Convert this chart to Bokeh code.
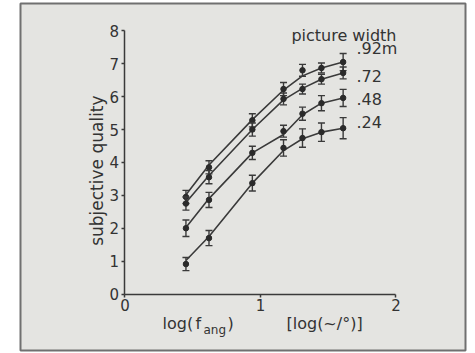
from bokeh.plotting import figure
from bokeh.models import Label, Range1d, FixedTicker, ColumnDataSource, LinearAxis
from bokeh.embed import file_html
from bokeh.resources import INLINE
import math

# ---- data ----
x_log_f = [0.45, 0.62, 0.94, 1.17, 1.31, 1.45, 1.61]

widths = [".92m", ".72", ".48", ".24"]

q_92 = [2.95, 3.85, 5.28, 6.23, 6.80, 6.87, 7.05]
q_72 = [2.75, 3.55, 5.00, 5.93, 6.23, 6.53, 6.72]
q_48 = [2.00, 2.86, 4.29, 4.95, 5.48, 5.80, 5.96]
q_24 = [0.91, 1.70, 3.37, 4.44, 4.74, 4.92, 5.04]

err_92 = [0.20, 0.20, 0.20, 0.20, 0.18, 0.15, 0.26]
err_72 = [0.20, 0.20, 0.20, 0.18, 0.15, 0.15, 0.18]
err_48 = [0.25, 0.23, 0.20, 0.18, 0.20, 0.23, 0.26]
err_24 = [0.20, 0.23, 0.24, 0.25, 0.28, 0.28, 0.32]

# fitted curves (at the same x positions)
fit_92 = [3.02, 3.92, 5.30, 6.20, 6.63, 6.87, 7.05]
fit_72 = [2.78, 3.60, 5.00, 5.90, 6.25, 6.53, 6.72]
fit_48 = [2.02, 2.90, 4.29, 4.85, 5.45, 5.80, 5.96]
fit_24 = [1.02, 1.75, 3.37, 4.36, 4.72, 4.92, 5.04]

x_ticks = [0, 1, 2]
y_ticks = [0, 1, 2, 3, 4, 5, 6, 7, 8]

INK = "#333333"
BG = "#e4e4e1"
FONT = "DejaVu Sans"

p = figure(width=475, height=353, x_range=Range1d(-0.771, 2.513), y_range=Range1d(-1.717, 8.83),
           x_axis_type=None, y_axis_type=None,
           output_backend="svg", toolbar_location=None,
           min_border_left=20, min_border_right=10, min_border_top=3, min_border_bottom=3)
p.border_fill_color = "white"
p.background_fill_color = BG
p.outline_line_color = "#707070"
p.outline_line_width = 2
p.grid.visible = False

xax = LinearAxis(fixed_location=0, ticker=FixedTicker(ticks=x_ticks), bounds=(0, 2))
yax = LinearAxis(fixed_location=0, ticker=FixedTicker(ticks=y_ticks), bounds=(0, 8))
p.add_layout(xax, "below")
p.add_layout(yax, "left")

for ax in (xax, yax):
    ax.axis_line_color = "#3a3a3a"
    ax.axis_line_width = 1.5
    ax.major_tick_line_color = "#3a3a3a"
    ax.major_tick_line_width = 1.5
    ax.major_tick_out = 3
    ax.major_tick_in = 0
    ax.minor_tick_out = 0
    ax.minor_tick_in = 0
    ax.major_label_text_font = FONT
    ax.major_label_text_font_size = "15px"
    ax.major_label_text_color = INK
xax.major_label_standoff = 2
yax.major_label_standoff = 3

series = [(q_92, err_92, fit_92), (q_72, err_72, fit_72),
          (q_48, err_48, fit_48), (q_24, err_24, fit_24)]

for q, e, f in series:
    lo = [v - d for v, d in zip(q, e)]
    hi = [v + d for v, d in zip(q, e)]
    src = ColumnDataSource(dict(x=x_log_f, q=q, lo=lo, hi=hi, f=f))
    p.line("x", "f", source=src, line_color="#3a3a3a", line_width=1.6)
    p.segment(x0="x", y0="lo", x1="x", y1="hi", source=src, line_color="#3a3a3a", line_width=1.4)
    p.scatter("x", "lo", source=src, marker="dash", size=7, line_color="#3a3a3a", line_width=1.4)
    p.scatter("x", "hi", source=src, marker="dash", size=7, line_color="#3a3a3a", line_width=1.4)
    p.scatter("x", "q", source=src, marker="circle", size=5.5, fill_color="#2a2a2a", line_color="#2a2a2a")

def lab(text, x, y, size="15px", **kw):
    p.add_layout(Label(x=x, y=y, text=text, text_font=FONT, text_font_size=size,
                       text_color=INK, **kw))

# legend-like labels
lab("picture width", 1.228, 7.58, size="16px")
label_y = [7.16, 6.43, 5.76, 5.06]
for t, yy in zip(widths, label_y):
    lab(t, 1.708, yy, size="16px")

# y axis title
lab("subjective quality", -0.203, 3.75, size="17px", angle=math.pi / 2,
    text_align="center", text_baseline="middle")

# x axis title with subscript
lab("log(", 0.277, -1.17, size="16px")
lab("f", 0.520, -1.17, size="16px")
lab("ang", 0.579, -1.32, size="12px")
lab(")", 0.756, -1.17, size="16px")
lab("[log(~/°)]", 1.192, -1.17, size="16px")

open("out.html", "w").write(file_html(p, INLINE))
